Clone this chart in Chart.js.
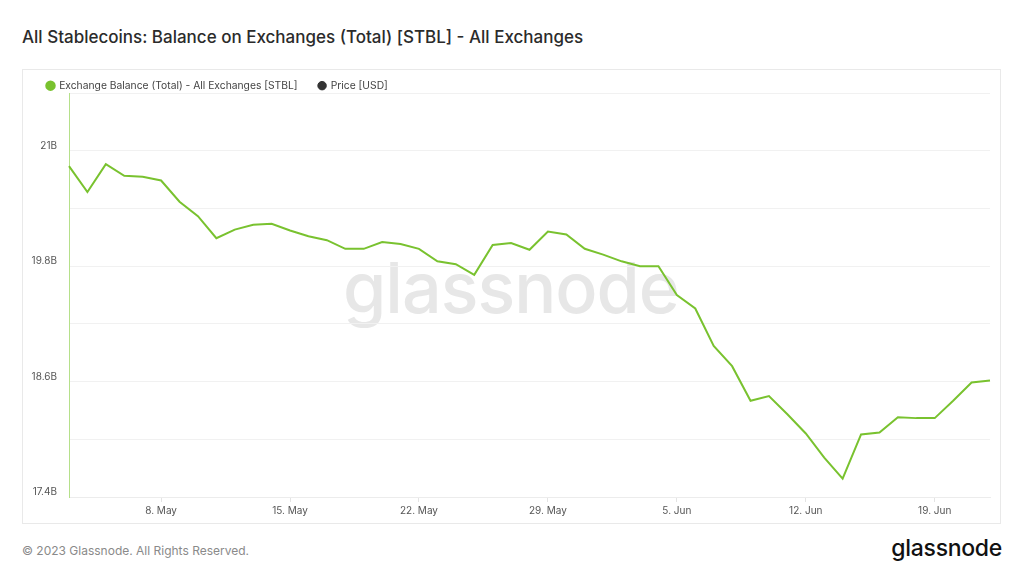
<!DOCTYPE html>
<html>
<head>
<meta charset="utf-8">
<script src="https://cdn.jsdelivr.net/npm/chart.js@4.4.0/dist/chart.umd.min.js"></script>
<style>
  html, body { margin: 0; padding: 0; background: #fff; }
  body { width: 1024px; height: 576px; position: relative; overflow: hidden; font-family: Inter, "Noto Sans", sans-serif; }
  #title { position: absolute; left: 22px; top: 27px; font-size: 17px; font-weight: 500; color: #2b2b2b; }
  #panel { position: absolute; left: 22px; top: 69px; width: 977px; height: 453px; border: 1px solid #e9e9e9; }
  #mark { position: absolute; left: 320px; top: 175px; font-size: 70px; font-weight: 500; color: #e7e7e7; letter-spacing: -1px; }
  #wrap { position: absolute; left: 0; top: 0; width: 977px; height: 453px; }
  #foot { position: absolute; left: 22px; top: 543px; font-size: 12px; color: #8a8a8a; }
  #logo { position: absolute; right: 22px; top: 534px; font-size: 23px; font-weight: 500; color: #111; letter-spacing: -0.3px; }
</style>
</head>
<body>
<div id="title">All Stablecoins: Balance on Exchanges (Total) [STBL] - All Exchanges</div>
<div id="panel">
  <div id="mark">glassnode</div>
  <div id="wrap"><canvas id="myChart"></canvas></div>
</div>
<div id="foot">© 2023 Glassnode. All Rights Reserved.</div>
<div id="logo">glassnode</div>

<script>
// daily points, 3 May - 22 Jun 2023
const days = [
    '3. May', '4. May', '5. May', '6. May', '7. May', '8. May', '9. May', '10. May', '11. May', '12. May',
    '13. May', '14. May', '15. May', '16. May', '17. May', '18. May', '19. May', '20. May', '21. May', '22. May',
    '23. May', '24. May', '25. May', '26. May', '27. May', '28. May', '29. May', '30. May', '31. May',
    '1. Jun', '2. Jun', '3. Jun', '4. Jun', '5. Jun', '6. Jun', '7. Jun', '8. Jun', '9. Jun', '10. Jun',
    '11. Jun', '12. Jun', '13. Jun', '14. Jun', '15. Jun', '16. Jun', '17. Jun', '18. Jun', '19. Jun',
    '20. Jun', '21. Jun', '22. Jun'
];

// exchange balance in billions
const balance = [
    20.84, 20.57, 20.86, 20.74, 20.73, 20.69, 20.47, 20.32, 20.09, 20.18,
    20.23, 20.24, 20.17, 20.11, 20.07, 19.98, 19.98, 20.05, 20.03, 19.98,
    19.85, 19.82, 19.71, 20.02, 20.04, 19.97, 20.16, 20.13, 19.98, 19.92,
    19.85, 19.80, 19.80, 19.50, 19.36, 18.97, 18.76, 18.40, 18.45, 18.26,
    18.06, 17.81, 17.59, 18.05, 18.07, 18.23, 18.22, 18.22, 18.40, 18.59,
    18.61
];

// price series is in the legend but not plotted
const price = [];

const xTicks = ['8. May', '15. May', '22. May', '29. May', '5. Jun', '12. Jun', '19. Jun'];
const yTicks = [17.4, 18.6, 19.8, 21];

const renderChart = () => {
    const ctx = document.getElementById('myChart').getContext('2d');

    // legend box height fixed so the plot starts right under it
    const legendHeight = {
        id: 'legendHeight',
        beforeInit(chart) {
            const fit = chart.legend.fit;
            chart.legend.fit = function () {
                fit.call(this);
                this.height = 33.5;
            };
        }
    };

    new Chart(ctx, {
        type: 'line',
        data: {
            labels: days,
            datasets: [{
                label: 'Exchange Balance (Total) - All Exchanges [STBL]',
                data: balance.map(v => v * 1e9),
                borderColor: '#79c22f',
                backgroundColor: '#79c22f',
                borderWidth: 2,
                pointRadius: 0,
                tension: 0
            }, {
                label: 'Price [USD]',
                data: price,
                borderColor: '#333333',
                backgroundColor: '#333333',
                pointRadius: 0
            }]
        },
        options: {
            responsive: true,
            maintainAspectRatio: false,
            animation: false,
            layout: { padding: { left: 3, right: 10, top: -10.5, bottom: 3 } },
            plugins: {
                legend: {
                    position: 'top',
                    align: 'start',
                    labels: {
                        usePointStyle: true,
                        pointStyle: 'circle',
                        boxWidth: 7,
                        boxHeight: 6,
                        padding: 21,
                        color: '#444',
                        font: { family: 'Inter', size: 10.3 }
                    }
                },
                tooltip: { enabled: false }
            },
            scales: {
                x: {
                    grid: { drawOnChartArea: false, color: '#e4e4e4', tickLength: 5 },
                    border: { color: '#ececec' },
                    ticks: {
                        autoSkip: false,
                        maxRotation: 0,
                        padding: 3,
                        color: '#555',
                        font: { family: 'Inter', size: 10 },
                        callback: function (value) {
                            const l = this.getLabelForValue(value);
                            return xTicks.includes(l) ? l : null;
                        }
                    }
                },
                y: {
                    min: 17.4e9,
                    max: 21.6e9,
                    afterFit: (scale) => { scale.width = 43; },
                    grid: { color: '#f1f1f1', drawTicks: false },
                    border: { color: '#b5e08a' },
                    ticks: {
                        stepSize: 0.6e9,
                        padding: 12,
                        labelOffset: -5,
                        color: '#555',
                        font: { family: 'Inter', size: 10 },
                        callback: function (value) {
                            const b = Math.round(value / 1e8) / 10;
                            return yTicks.includes(b) ? b + 'B' : '';
                        }
                    }
                }
            }
        },
        plugins: [legendHeight]
    });
};

document.addEventListener('DOMContentLoaded', renderChart);
</script>
</body>
</html>
